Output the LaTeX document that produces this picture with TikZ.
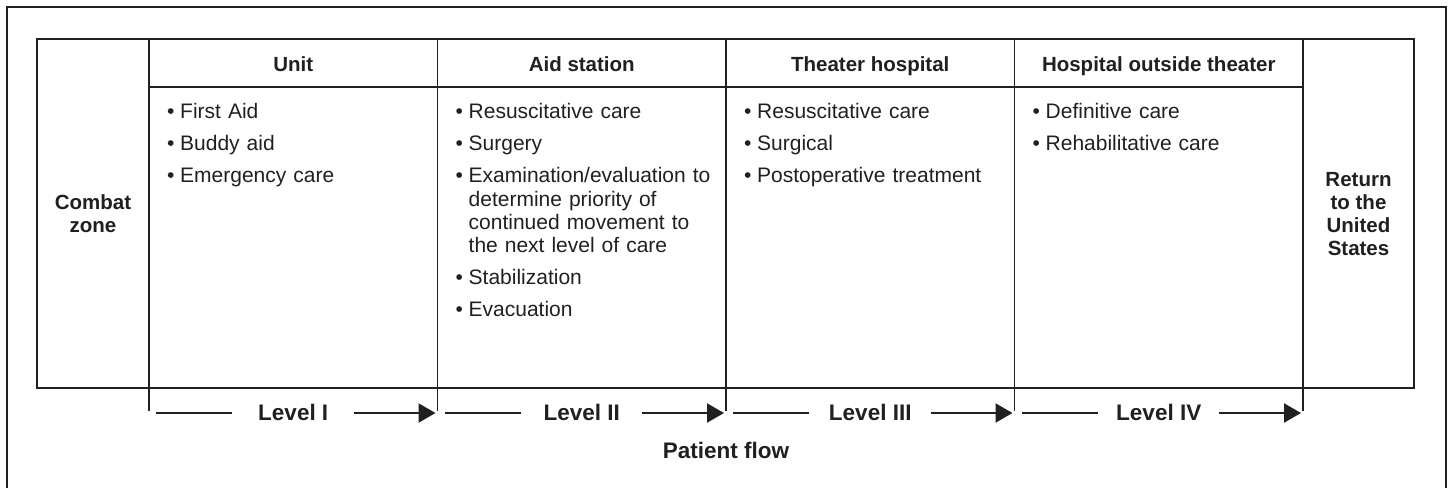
\documentclass[tikz,border=0pt]{standalone}
\usepackage{fontspec}
\setmainfont{Liberation Sans}
\usetikzlibrary{arrows.meta}

\definecolor{ink}{HTML}{231F20}

% one bulleted item of a column, and a line break inside it
\newcommand{\itm}[1]{\par\setlength{\parskip}{8.7pt}\hangindent=13pt\hangafter=1\noindent\makebox[13pt][l]{\textbullet}#1}
\newcommand{\nl}{\hfil\break}

\tikzset{
  head/.style={font=\fontsize{20.5}{24}\selectfont\bfseries, inner sep=0pt, anchor=base, text=ink},
  body/.style={font=\fontsize{21}{23.3}\selectfont, align=left, text width=272pt, inner sep=0pt, anchor=north west, text=ink},
  side/.style={font=\fontsize{20.5}{23}\selectfont\bfseries, align=center, inner sep=0pt, text=ink},
  lvl/.style={font=\fontsize{22.5}{26}\selectfont\bfseries, inner sep=0pt, text=ink},
  rule/.style={line width=1.2pt, draw=ink},
  flow/.style={line width=2.2pt, draw=ink},
}

\begin{document}
\begin{tikzpicture}[x=1pt, y=-1pt]
  \useasboundingbox (0,0) rectangle (1448,488);

  % outer frame, open at the bottom
  \draw[rule] (7,488) -- (7,7) -- (1446,7) -- (1446,488);

  % table
  \draw[rule] (37,39) rectangle (1414,388);
  \draw[rule] (149,87) -- (1303,87);
  \foreach \x in {149,437.5,726,1014.5,1303} {
    \draw[rule] (\x,39) -- (\x,411);
  }

  % column heads
  \foreach \x/\name/\txt in {293.25/unit/Unit, 581.75/aid/Aid station,
      870.25/theater/Theater hospital, 1158.75/outside/Hospital outside theater} {
    \node[head] (h\name) at (\x,71.5) {\txt};
  }

  % side cells
  \node[side] (combat) at (93,214) {Combat\\zone};
  \node[side] (return) at (1358.5,214) {Return\\to the\\United\\States};

  % column bodies
  \node[body] (bunit) at (167,86.5) {%
    \itm{First Aid}
    \itm{Buddy aid}
    \itm{Emergency care}};
  \node[body] (baid) at (455.5,86.5) {%
    \itm{Resuscitative care}
    \itm{Surgery}
    \itm{Examination/evaluation to\nl determine priority of\nl continued movement to\nl the next level of care}
    \itm{Stabilization}
    \itm{Evacuation}};
  \node[body] (btheater) at (744,86.5) {%
    \itm{Resuscitative care}
    \itm{Surgical}
    \itm{Postoperative treatment}};
  \node[body] (boutside) at (1032.5,86.5) {%
    \itm{Definitive care}
    \itm{Rehabilitative care}};

  % levels of care
  \foreach \a/\b/\l in {149/437.5/I, 437.5/726/II, 726/1014.5/III, 1014.5/1303/IV} {
    \node[lvl] (lvl\l) at ({(\a+\b)/2},412) {Level \l};
    \draw[flow] (\a+7,413) -- (\a+83,413);
    \draw[flow, -{Triangle[length=17pt, width=19pt]}] (\b-84,413) -- (\b-2,413);
  }

  \node[lvl] (flowlabel) at (726,450) {Patient flow};
\end{tikzpicture}
\end{document}
